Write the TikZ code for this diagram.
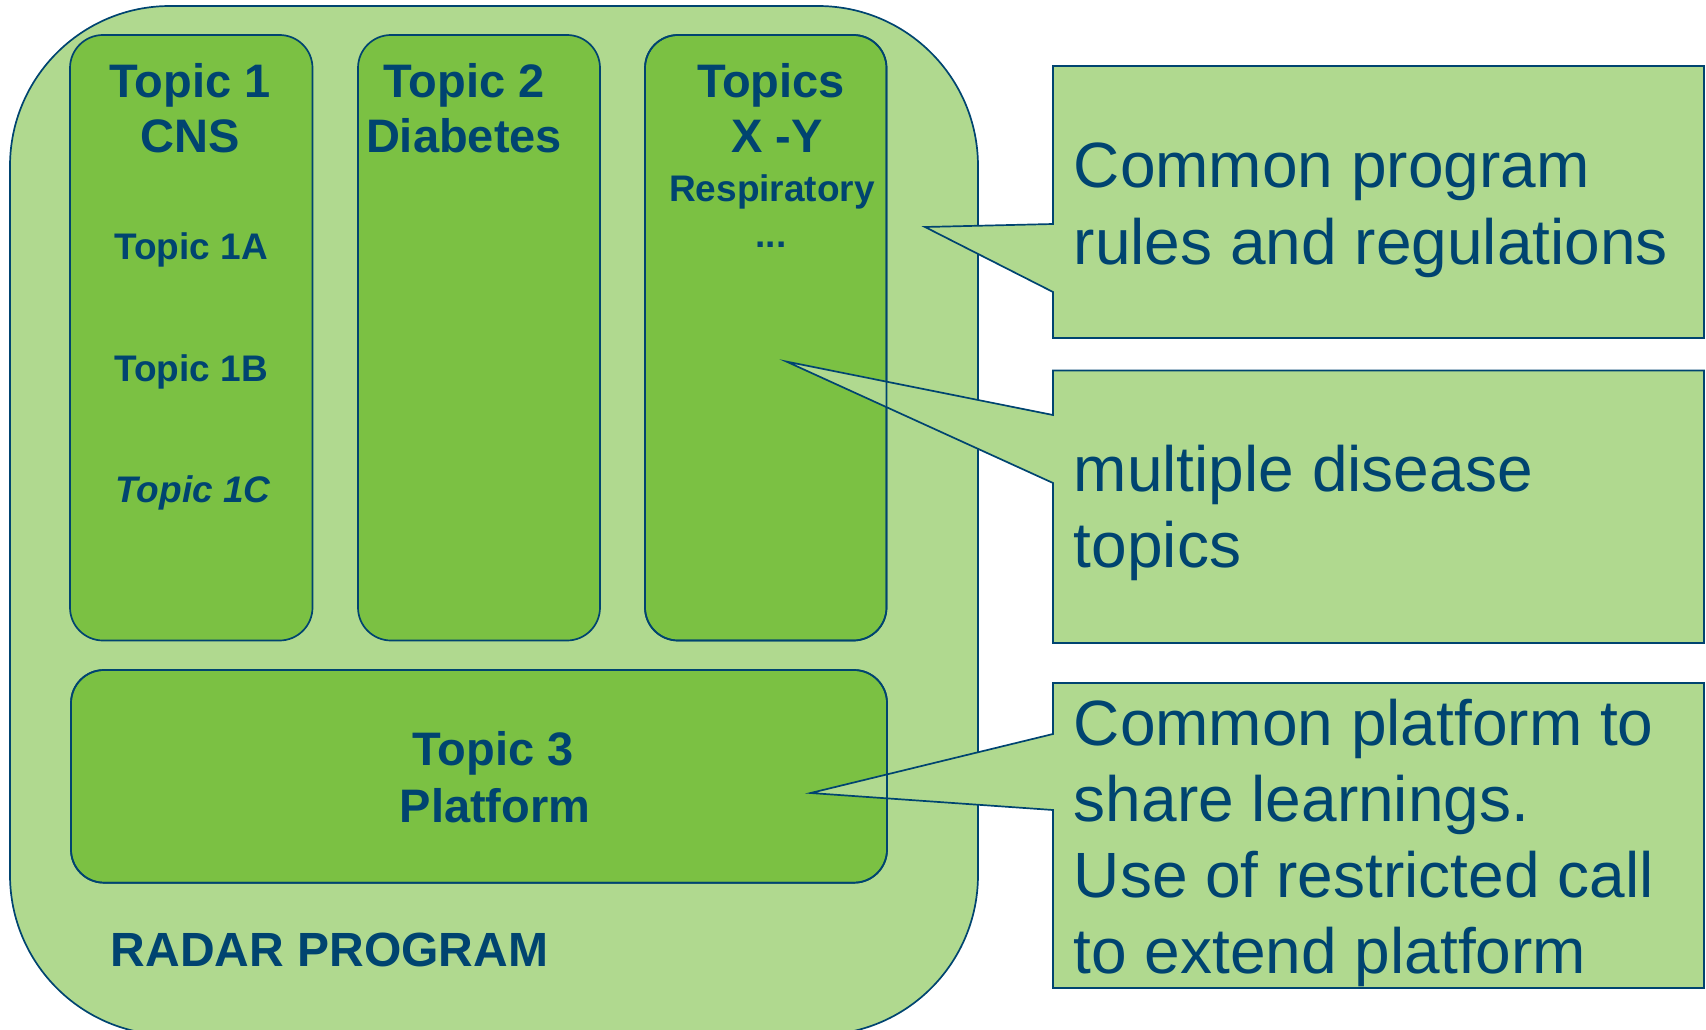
\documentclass[tikz,border=0pt]{standalone}
\usepackage{fontspec}
\setmainfont{Liberation Sans}
\definecolor{lg}{RGB}{176,217,143}
\definecolor{dg}{RGB}{123,193,67}
\definecolor{nv}{RGB}{0,68,112}
\begin{document}
\begin{tikzpicture}[x=1pt,y=-1pt,line width=1.7pt,
  outerbox/.style={fill=lg,draw=nv,rounded corners=160pt},
  colfill/.style={fill=dg,draw=nv,rounded corners=33pt},
  colline/.style={draw=nv,rounded corners=33pt},
  callout/.style={fill=lg,draw=nv,line join=miter},
  ttl/.style={font=\bfseries\fontsize{47}{56}\selectfont,text=nv,anchor=base,inner sep=0pt},
  sub/.style={font=\bfseries\fontsize{37}{44}\selectfont,text=nv,anchor=base,inner sep=0pt},
  ctext/.style={font=\fontsize{64}{76}\selectfont,text=nv,anchor=base west,inner sep=0pt}]
\useasboundingbox (0,0) rectangle (1706,1030);
\begin{scope}
\clip (0,0) rectangle (1706,1030);
\path[outerbox] (10,6) rectangle (978,1035);
\end{scope}
% columns
\path[colfill] (70,35) rectangle (312.5,640.5);
\path[colfill] (358,35) rectangle (600,640.5);
\path[colfill] (645,35) rectangle (886.5,640.5);
\path[colfill] (71,670) rectangle (887,882.7);
% callout tips
\coordinate (tip1) at (925,227);
\coordinate (tip2) at (786.5,361.6);
\coordinate (tip3) at (810.6,793);
% callouts
\path[callout] (1053,66) -- (1704,66) -- (1704,338) -- (1053,338) -- (1053,292) -- (tip1) -- (1053,224) -- cycle;
\path[callout] (1053,370.5) -- (1704,370.5) -- (1704,643) -- (1053,643) -- (1053,483) -- (tip2) -- (1053,415) -- cycle;
\path[callout] (1053,683) -- (1704,683) -- (1704,988) -- (1053,988) -- (1053,810) -- (tip3) -- (1053,734) -- cycle;
% column borders visible through pointers
\path[colline] (645,35) rectangle (886.5,640.5);
\path[colline] (71,670) rectangle (887,882.7);
% column 1 text
\node[ttl] (t1a) at (190,97.5) {Topic 1};
\node[ttl] (t1b) at (190,153) {CNS};
\node[sub] (t1A) at (191,259) {Topic 1A};
\node[sub] (t1B) at (191,381) {Topic 1B};
\node[sub,font=\bfseries\itshape\fontsize{37}{44}\selectfont] (t1C) at (193,502) {Topic 1C};
% column 2 text
\node[ttl] (t2a) at (464,97.5) {Topic 2};
\node[ttl] (t2b) at (464,153) {Diabetes};
% column 3 text
\node[ttl] (t3a) at (771,97.5) {Topics};
\node[ttl] (t3b) at (777,153) {X -Y};
\node[sub] (t3c) at (772,201) {Respiratory};
\node[sub] (t3d) at (771,247) {...};
% bottom box text
\node[ttl] (t4a) at (493,765) {Topic 3};
\node[ttl] (t4b) at (495,822) {Platform};
\node[font=\bfseries\fontsize{48}{56}\selectfont,text=nv,anchor=base west,inner sep=0pt] (prog) at (110,966.7) {RADAR PROGRAM};
% callout texts
\node[ctext] (c1a) at (1073,187) {Common program};
\node[ctext] (c1b) at (1073,264) {rules and regulations};
\node[ctext] (c2a) at (1073,491) {multiple disease};
\node[ctext] (c2b) at (1073,567) {topics};
\node[ctext] (c3a) at (1073,745) {Common platform to};
\node[ctext] (c3b) at (1073,821) {share learnings.};
\node[ctext] (c3c) at (1073,897.7) {Use of restricted call};
\node[ctext] (c3d) at (1073,973) {to extend platform};
\end{tikzpicture}
\end{document}
